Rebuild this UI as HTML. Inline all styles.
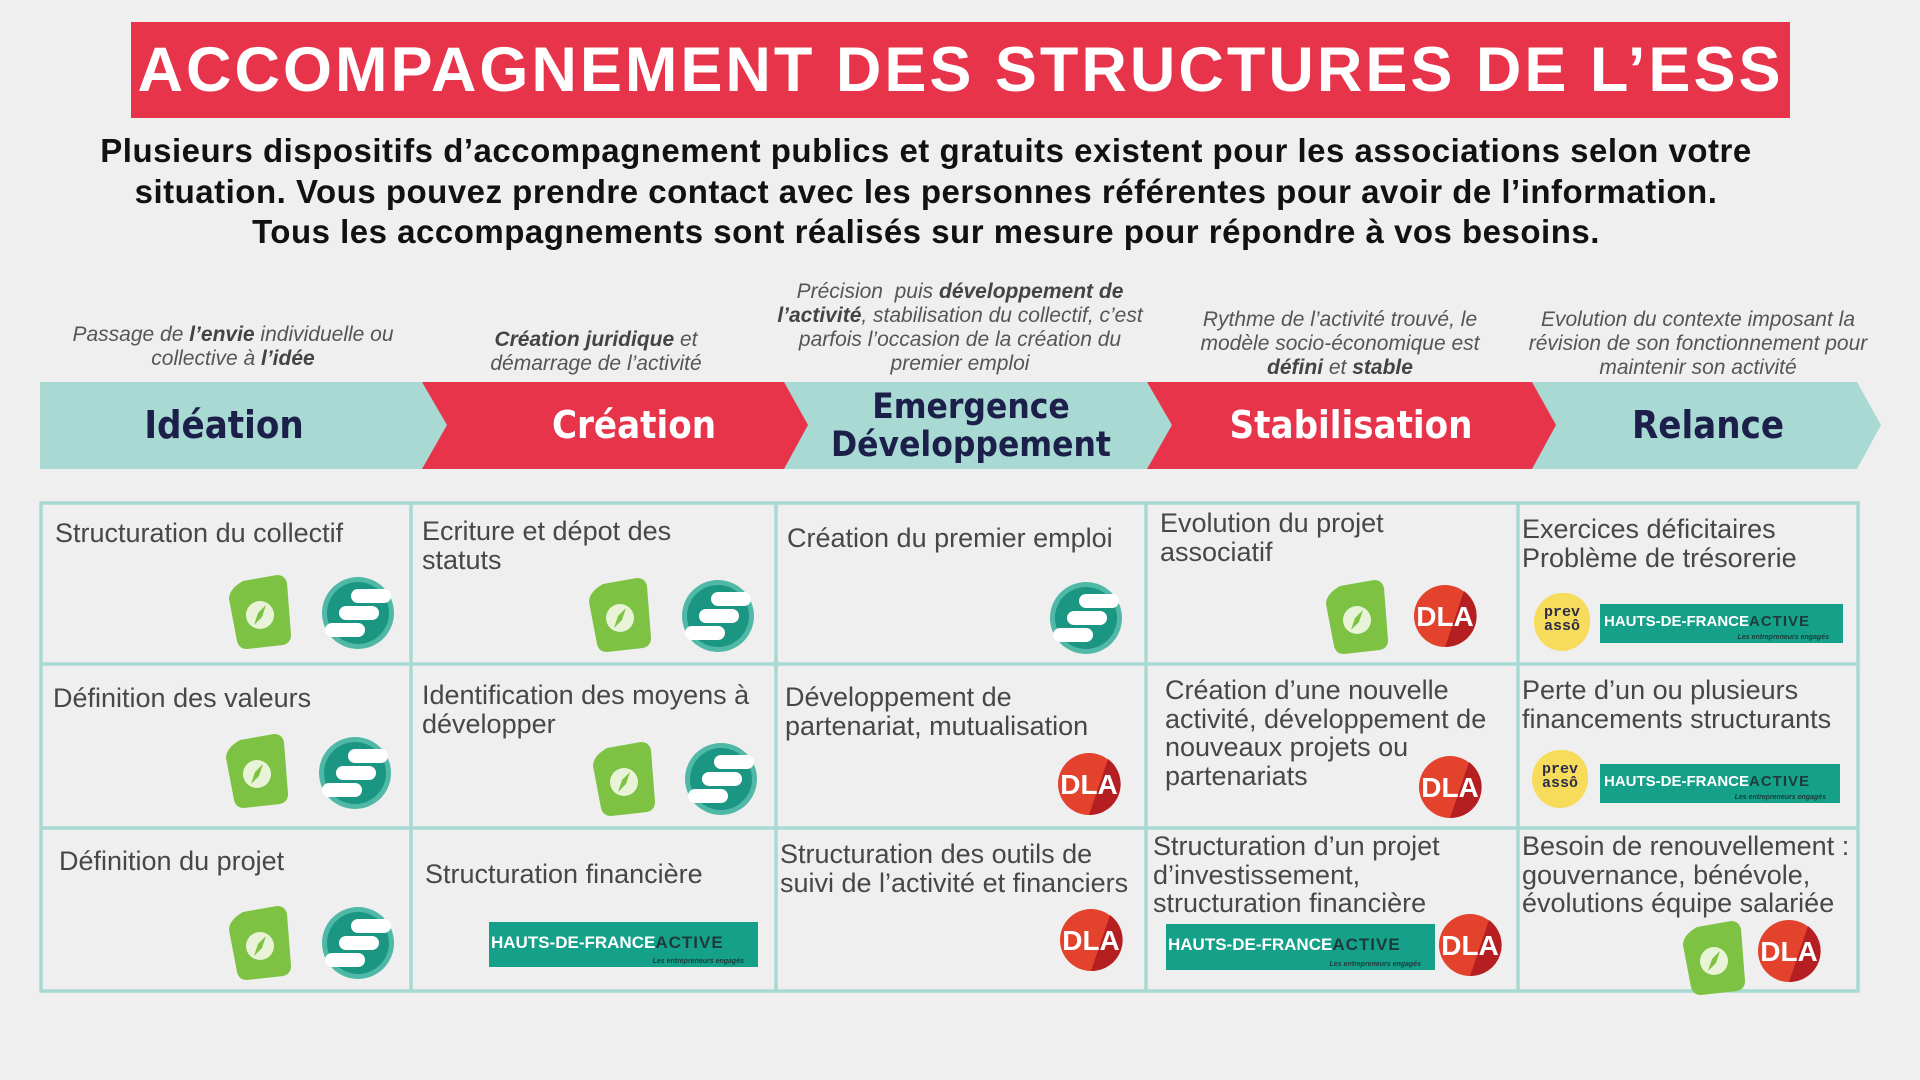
<!DOCTYPE html>
<html><head><meta charset="utf-8">
<style>
*{margin:0;padding:0;box-sizing:border-box}
body{width:1920px;height:1080px;background:#efefef;position:relative;overflow:hidden;font-family:"Liberation Sans",sans-serif}
.abs{position:absolute}
#title{left:131px;top:22px;width:1659px;height:96px;background:#e8344b;color:#fff;font-weight:bold;font-size:63px;text-align:center;line-height:96px;letter-spacing:3px;white-space:nowrap}
#sub{left:0;top:131px;width:1852px;text-align:center;font-weight:bold;font-size:33px;line-height:40.5px;color:#111;letter-spacing:0.5px;white-space:nowrap}
.cap{font-style:italic;font-size:21px;line-height:24px;color:#555;text-align:center;white-space:nowrap;transform:translateX(-50%)}
.cap b{color:#444}
.band{font-family:"Liberation Sans Narrow","DejaVu Sans Condensed",sans-serif;font-weight:bold;font-size:38px;text-align:center;transform:translate(-50%,-50%);white-space:nowrap;line-height:38px}
.t{font-family:"Liberation Sans Narrow","Liberation Sans",sans-serif;font-size:27px;line-height:28.5px;color:#474747;white-space:nowrap}
.hdf{background:#15a08a;color:#fff;font-size:17px;font-weight:bold;white-space:nowrap;overflow:hidden}
.hdf span.a{color:#1f3a3a;letter-spacing:1px}
.hdf i{position:absolute;right:14px;bottom:2px;font-size:7px;color:#1f3a3a}
.prev{width:56px;height:58px;background:#f7dc5c;border-radius:50% 45% 50% 50%;color:#2c2c4a;font-family:"Liberation Mono",monospace;font-weight:bold;font-size:15px;line-height:14px;padding:13px 0 0 10px}
</style></head><body>
<div id="title" class="abs">ACCOMPAGNEMENT DES STRUCTURES DE L’ESS</div>
<div id="sub" class="abs">Plusieurs dispositifs d’accompagnement publics et gratuits existent pour les associations selon votre<br>situation. Vous pouvez prendre contact avec les personnes référentes pour avoir de l’information.<br>Tous les accompagnements sont réalisés sur mesure pour répondre à vos besoins.</div>

<div class="abs cap" style="left:233px;top:323px">Passage de <b>l’envie</b> individuelle ou<br>collective à <b>l’idée</b></div>
<div class="abs cap" style="left:596px;top:328px"><b>Création juridique</b> et<br>démarrage de l’activité</div>
<div class="abs cap" style="left:960px;top:280px">Précision &nbsp;puis <b>développement de<br>l’activité</b>, stabilisation du collectif, c’est<br>parfois l’occasion de la création du<br>premier emploi</div>
<div class="abs cap" style="left:1340px;top:308px">Rythme de l’activité trouvé, le<br>modèle socio-économique est<br><b>défini</b> et <b>stable</b></div>
<div class="abs cap" style="left:1698px;top:308px">Evolution du contexte imposant la<br>révision de son fonctionnement pour<br>maintenir son activité</div>

<svg class="abs" style="left:0;top:0" width="1920" height="1080">
<polygon points="40,382 1857,382 1881,425 1857,469 40,469" fill="#a8d9d3"/>
<polygon points="422,382 784,382 808,425 784,469 422,469 447,425" fill="#e8344b"/>
<polygon points="1147,382 1532,382 1556,425 1532,469 1147,469 1172,425" fill="#e8344b"/>
<g fill="none" stroke="#a8d9d3" stroke-width="3.5">
<rect x="41" y="503" width="1817" height="488"/>
<line x1="411" y1="503" x2="411" y2="991"/><line x1="776" y1="503" x2="776" y2="991"/>
<line x1="1146" y1="503" x2="1146" y2="991"/><line x1="1518" y1="503" x2="1518" y2="991"/>
<line x1="41" y1="664" x2="1858" y2="664"/><line x1="41" y1="828" x2="1858" y2="828"/>
</g>
<defs>
<g id="tag"><path d="M14,6 L48,0 Q56,0 58,8 L62,60 Q62,68 54,70 L18,74 Q10,74 8,66 L0,24 Q0,14 14,6Z" fill="#7dc242"/><circle cx="31" cy="40" r="14" fill="#e8f3d8"/><path d="M37,30 L33,42 L25,50 L29,38Z" fill="#7dc242"/></g>
<g id="sc"><circle cx="37" cy="37" r="36" fill="#4fb8a6"/><circle cx="37" cy="37" r="31" fill="#1a9682"/><rect x="30" y="13" width="40" height="14" rx="7" fill="#fff"/><rect x="18" y="30" width="40" height="14" rx="7" fill="#fff"/><rect x="4" y="47" width="40" height="14" rx="7" fill="#fff"/></g>
<g id="dla"><circle cx="31" cy="31" r="31" fill="#e3432d"/><path d="M50,6 A31,31 0 0 1 31,62 Z" fill="#b51f22"/><text x="31" y="41" font-family="Liberation Sans" font-weight="bold" font-size="28" fill="#fff" text-anchor="middle">DLA</text></g>
</defs>
<use href="#tag" x="229" y="575"/><use href="#sc" x="321" y="576"/>
<use href="#tag" x="589" y="578"/><use href="#sc" x="681" y="579"/>
<use href="#sc" x="1049" y="581"/>
<use href="#tag" x="1326" y="580"/><use href="#dla" x="1414" y="585"/>
<use href="#tag" x="226" y="734"/><use href="#sc" x="318" y="736"/>
<use href="#tag" x="593" y="742"/><use href="#sc" x="684" y="742"/>
<use href="#dla" x="1058" y="753"/>
<use href="#dla" x="1419" y="756"/>
<use href="#tag" x="229" y="906"/><use href="#sc" x="321" y="906"/>
<use href="#dla" x="1060" y="909"/>
<use href="#dla" x="1439" y="914"/>
<use href="#tag" x="1683" y="921"/><use href="#dla" x="1758" y="920"/>
</svg>

<div class="abs band" style="left:224px;top:425px;color:#1b1f4a">Idéation</div>
<div class="abs band" style="left:634px;top:425px;color:#fff">Création</div>
<div class="abs band" style="left:971px;top:426px;color:#1b1f4a;font-size:35px">Emergence<br>Développement</div>
<div class="abs band" style="left:1351px;top:425px;color:#fff">Stabilisation</div>
<div class="abs band" style="left:1708px;top:425px;color:#1b1f4a">Relance</div>

<div class="abs t" style="left:55px;top:519px">Structuration du collectif</div>
<div class="abs t" style="left:422px;top:517px">Ecriture et dépot des<br>statuts</div>
<div class="abs t" style="left:787px;top:524px">Création du premier emploi</div>
<div class="abs t" style="left:1160px;top:509px">Evolution du projet<br>associatif</div>
<div class="abs t" style="left:1522px;top:515px">Exercices déficitaires<br>Problème de trésorerie</div>
<div class="abs t" style="left:53px;top:684px">Définition des valeurs</div>
<div class="abs t" style="left:422px;top:681px">Identification des moyens à<br>développer</div>
<div class="abs t" style="left:785px;top:683px">Développement de<br>partenariat, mutualisation</div>
<div class="abs t" style="left:1165px;top:676px">Création d’une nouvelle<br>activité, développement de<br>nouveaux projets ou<br>partenariats</div>
<div class="abs t" style="left:1522px;top:676px">Perte d’un ou plusieurs<br>financements structurants</div>
<div class="abs t" style="left:59px;top:847px">Définition du projet</div>
<div class="abs t" style="left:425px;top:860px">Structuration financière</div>
<div class="abs t" style="left:780px;top:840px">Structuration des outils de<br>suivi de l’activité et financiers</div>
<div class="abs t" style="left:1153px;top:832px">Structuration d’un projet<br>d’investissement,<br>structuration financière</div>
<div class="abs t" style="left:1522px;top:832px">Besoin de renouvellement :<br>gouvernance, bénévole,<br>évolutions équipe salariée</div>

<div class="abs prev" style="left:1534px;top:593px">prev<br>assô</div>
<div class="abs hdf" style="left:1600px;top:604px;width:243px;height:39px;padding:9px 0 0 4px;font-size:15px">HAUTS-DE-FRANCE<span class="a">ACTIVE</span><i>Les entrepreneurs engagés</i></div>
<div class="abs prev" style="left:1532px;top:750px">prev<br>assô</div>
<div class="abs hdf" style="left:1600px;top:764px;width:240px;height:39px;padding:9px 0 0 4px;font-size:15px">HAUTS-DE-FRANCE<span class="a">ACTIVE</span><i>Les entrepreneurs engagés</i></div>
<div class="abs hdf" style="left:489px;top:922px;width:269px;height:45px;padding:11px 0 0 2px">HAUTS-DE-FRANCE<span class="a">ACTIVE</span><i>Les entrepreneurs engagés</i></div>
<div class="abs hdf" style="left:1166px;top:924px;width:269px;height:46px;padding:11px 0 0 2px">HAUTS-DE-FRANCE<span class="a">ACTIVE</span><i>Les entrepreneurs engagés</i></div>
</body></html>
